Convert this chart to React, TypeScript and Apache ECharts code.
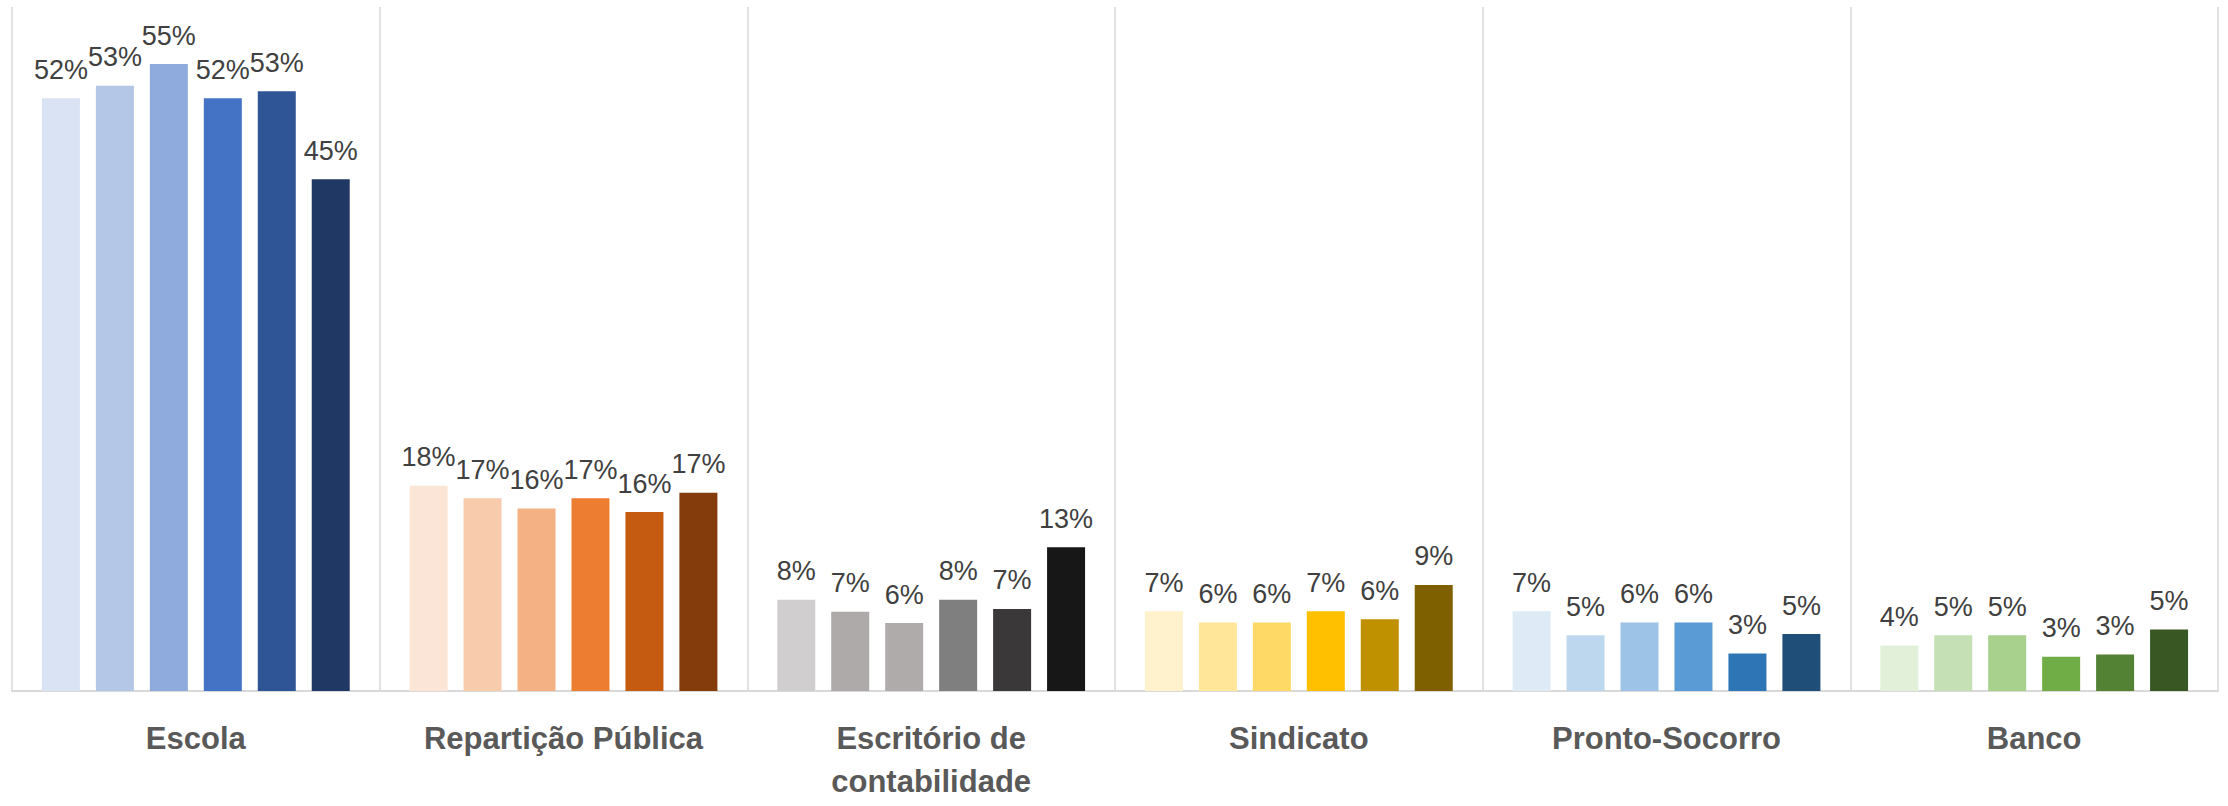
import React, { useEffect, useRef } from "react";
import * as echarts from "echarts";

const categories = [
  "Escola",
  "Repartição Pública",
  "Escritório de\ncontabilidade",
  "Sindicato",
  "Pronto-Socorro",
  "Banco",
];

const escola = [52.0, 53.1, 55.0, 52.0, 52.6, 44.9];
const reparticao = [18.0, 16.9, 16.0, 16.9, 15.7, 17.4];
const escritorio = [8.0, 6.95, 5.96, 8.0, 7.2, 12.6];
const sindicato = [7.0, 6.0, 6.0, 7.0, 6.3, 9.3];
const prontoSocorro = [7.0, 4.9, 6.0, 6.0, 3.3, 5.0];
const banco = [4.0, 4.9, 4.9, 3.0, 3.2, 5.4];

const seriesNames = ["Série 1", "Série 2", "Série 3", "Série 4", "Série 5", "Série 6"];

const palettes = [
  ["#DAE3F3", "#B4C7E7", "#8FAADC", "#4472C4", "#2F5597", "#203864"],
  ["#FBE5D6", "#F8CBAD", "#F4B183", "#ED7D31", "#C55A11", "#843C0C"],
  ["#D0CECE", "#AEAAAA", "#AFABAB", "#7F7F7F", "#3A3838", "#171717"],
  ["#FFF2CC", "#FFE699", "#FFD966", "#FFC000", "#BF9000", "#7F6000"],
  ["#DEEBF7", "#BDD7EE", "#9DC3E6", "#5B9BD5", "#2E75B6", "#1F4E79"],
  ["#E2F0D9", "#C5E0B4", "#A9D18E", "#70AD47", "#548235", "#385723"],
];

const groups = [escola, reparticao, escritorio, sindicato, prontoSocorro, banco];

export default function App() {
  const ref = useRef<HTMLDivElement>(null);

  useEffect(() => {
    if (!ref.current) return;
    const chart = echarts.init(ref.current, null, { renderer: "svg" });
    const font = "'Liberation Sans', Arial, sans-serif";
    const series = seriesNames.map((name, si) => ({
      name,
      type: "bar" as const,
      barWidth: 38,
      barGap: "42%",
      data: groups.map((g, ci) => ({
        value: g[si],
        itemStyle: { color: palettes[ci][si] },
      })),
      label: {
        show: true,
        position: "top" as const,
        distance: 15,
        formatter: (p: any) => Math.round(p.value) + "%",
        fontSize: 27,
        fontFamily: font,
        color: "#404040",
      },
    }));

    chart.setOption({
      animation: false,
      backgroundColor: "#ffffff",
      grid: { left: 12, right: 10, top: 7, bottom: 115, containLabel: false },
      xAxis: {
        type: "category",
        data: categories,
        axisLine: { show: true, lineStyle: { color: "#D9D9D9", width: 2 } },
        axisTick: { show: false },
        splitLine: { show: true, lineStyle: { color: "#D9D9D9", width: 1.5 } },
        axisLabel: {
          interval: 0,
          margin: 26,
          fontSize: 31,
          lineHeight: 43,
          fontWeight: "bold",
          color: "#595959",
          fontFamily: font,
        },
      },
      yAxis: {
        type: "value",
        min: 0,
        max: 60,
        show: false,
        splitLine: { show: false },
      },
      series,
    });
    return () => chart.dispose();
  }, []);

  return (
    <div
      ref={ref}
      style={{ position: "fixed", left: 0, top: 0, width: "2228px", height: "806px" }}
    />
  );
}
